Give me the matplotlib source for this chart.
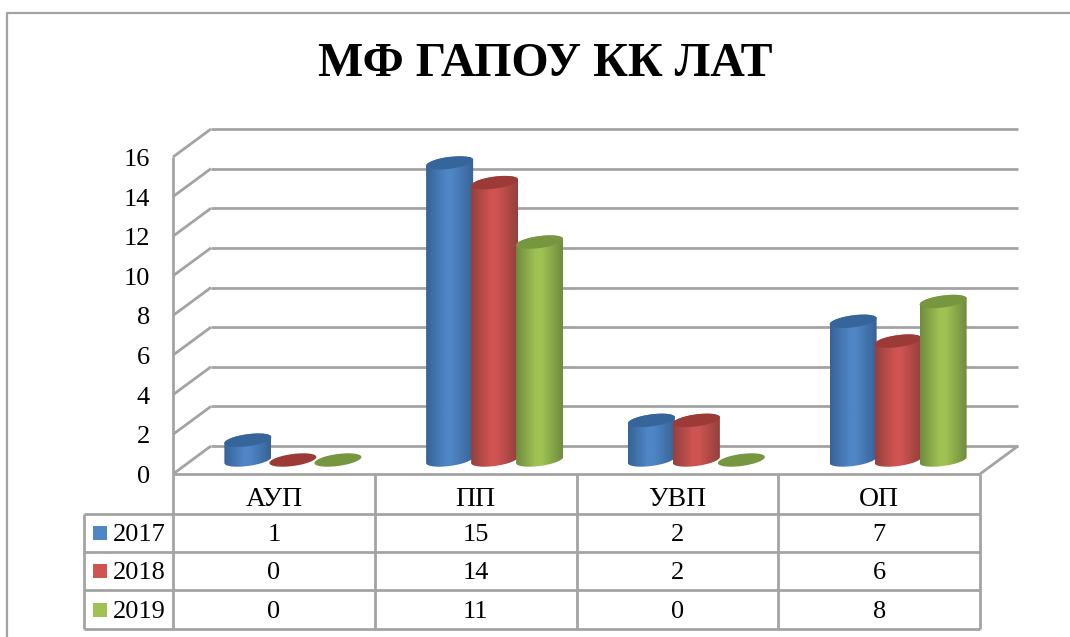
"""
3D-looking grouped cylinder chart with a data table under it.
The depth and the cylinders are faked on one flat axes (value units on y).
"""
import numpy as np
import matplotlib
matplotlib.use('Agg')
import matplotlib.pyplot as plt
from matplotlib.colors import LinearSegmentedColormap
from matplotlib.patches import Polygon

# ---------------------------------------------------------------
# DATA
# ---------------------------------------------------------------
categories = ['АУП', 'ПП', 'УВП', 'ОП']
years = ['2017', '2018', '2019']
values_2017 = [1, 15, 2, 7]
values_2018 = [0, 14, 2, 6]
values_2019 = [0, 11, 0, 8]
y_ticks = [0, 2, 4, 6, 8, 10, 12, 14, 16]
title = 'МФ ГАПОУ КК ЛАТ'

# colours: dark edge, light middle, top ellipse
blues = ('#376296', '#4f86c6', '#35659b')
reds = ('#93403d', '#cf5451', '#9c3a37')
greens = ('#6f8c3d', '#a0c254', '#779640')
line_grey = '#a3a3a3'

plt.rcParams['font.family'] = ['Liberation Serif', 'DejaVu Serif']

W, H = 1070, 637
fig = plt.figure(figsize=(W / 100, H / 100), dpi=100, facecolor='white')

# axes box = front plane of the chart, pixels
left, right, y_zero, y_top = 173, 980, 474, 157
ax = fig.add_axes([left / W, 1 - y_zero / H, (right - left) / W, (y_zero - y_top) / H])
ax.set_xlim(0, len(categories))
ax.set_ylim(0, 16)
ax.axis('off')

px_x = len(categories) / (right - left)     # data units per pixel
px_y = 16 / (y_zero - y_top)
depth_x, depth_y = 38 * px_x, 28 * px_y


def frame_line(xs, ys, lw=2.0, color=line_grey):
    ax.plot(xs, ys, color=color, lw=lw, clip_on=False, solid_capstyle='butt', zorder=1)


# ---------------------------------------------------------------
# WALLS AND GRID
# ---------------------------------------------------------------
frame_line([0, 0], [0, 16])
for t in y_ticks:
    frame_line([0, depth_x], [t, t + depth_y])
    frame_line([depth_x, 4 + depth_x], [t + depth_y, t + depth_y])
    ax.text(-23 * px_x, t - 3 * px_y, str(t), ha='right', va='center', fontsize=19, color='black')
frame_line([4, 4 + depth_x], [0, depth_y])


# ---------------------------------------------------------------
# CYLINDERS
# ---------------------------------------------------------------
grad_stops = [0.0, 0.42, 0.55, 1.0]


def cylinder(cx, value, colors, z):
    a = 23.5 * px_x
    b = 6 * px_y
    tilt = 3 * px_y
    base = depth_y / 2
    t = np.linspace(0, 2 * np.pi, 80)
    ex = a * np.cos(t)
    ey = b * np.sin(t) + tilt * np.cos(t)
    if value > 0:
        low = np.linspace(np.pi, 2 * np.pi, 40)
        up = np.linspace(0, np.pi, 40)
        xs = np.r_[cx + a * np.cos(low), cx + a * np.cos(up)]
        ys = np.r_[base + b * np.sin(low) + tilt * np.cos(low),
                   base + value + b * np.sin(up) + tilt * np.cos(up)]
        shades = [colors[0], colors[1], colors[1], colors[0]]
        cmap = LinearSegmentedColormap.from_list('c', list(zip(grad_stops, shades)))
        im = ax.imshow(np.linspace(0, 1, 128).reshape(1, -1), cmap=cmap, aspect='auto',
                       extent=[cx - a, cx + a, 0, 16], zorder=z)
        body = Polygon(np.c_[xs, ys], closed=True, transform=ax.transData, fc='none', ec='none')
        ax.add_patch(body)
        im.set_clip_path(body)
    ax.add_patch(Polygon(np.c_[cx + ex, base + value + ey], closed=True,
                         fc=colors[2], ec='none', zorder=z + 0.5, clip_on=False))


series = [values_2017, values_2018, values_2019]
palette = [blues, reds, greens]
for c in range(len(categories)):
    center = c + 0.5 + depth_x / 2
    for s, vals in enumerate(series):
        cylinder(center + (s - 1) * 45 * px_x, vals[c], palette[s], 3 + s)

ax.set_xlim(0, len(categories))
ax.set_ylim(0, 16)

# ---------------------------------------------------------------
# TABLE UNDER THE CHART
# ---------------------------------------------------------------
row_px = [474, 514, 552, 590, 629]
row_y = [(y_zero - p) * px_y for p in row_px]
table_left = (84 - left) * px_x

for k in range(5):
    frame_line([table_left if k else 0, 4], [row_y[k], row_y[k]])
frame_line([table_left, table_left], [row_y[1], row_y[4]])
for c in range(5):
    frame_line([c, c], [row_y[0], row_y[4]])

for c, name in enumerate(categories):
    ax.text(c + 0.5, (row_y[0] + row_y[1]) / 2 - 6 * px_y, name, ha='center', va='center', fontsize=20)
    for s, vals in enumerate(series):
        ax.text(c + 0.5, (row_y[s + 1] + row_y[s + 2]) / 2 - 2 * px_y, str(vals[c]),
                ha='center', va='center', fontsize=19)

for s, year in enumerate(years):
    mid = (row_y[s + 1] + row_y[s + 2]) / 2
    ax.scatter([(100 - left) * px_x], [mid], marker='s', s=100, color=palette[s][1],
               clip_on=False, zorder=3, linewidths=0)
    ax.text((113 - left) * px_x, mid - 2 * px_y, year, ha='left', va='center', fontsize=19)

# ---------------------------------------------------------------
# TITLE AND OUTER BORDER
# ---------------------------------------------------------------
fig.text(545 / W, 1 - 64 / H, title, ha='center', va='center', fontsize=34.5, fontweight='bold')
fig.add_artist(plt.Line2D([7 / W, 7 / W, 1], [0, 1 - 12.5 / H, 1 - 12.5 / H], color=line_grey, lw=1.6))

fig.savefig('out.png', dpi=100)
